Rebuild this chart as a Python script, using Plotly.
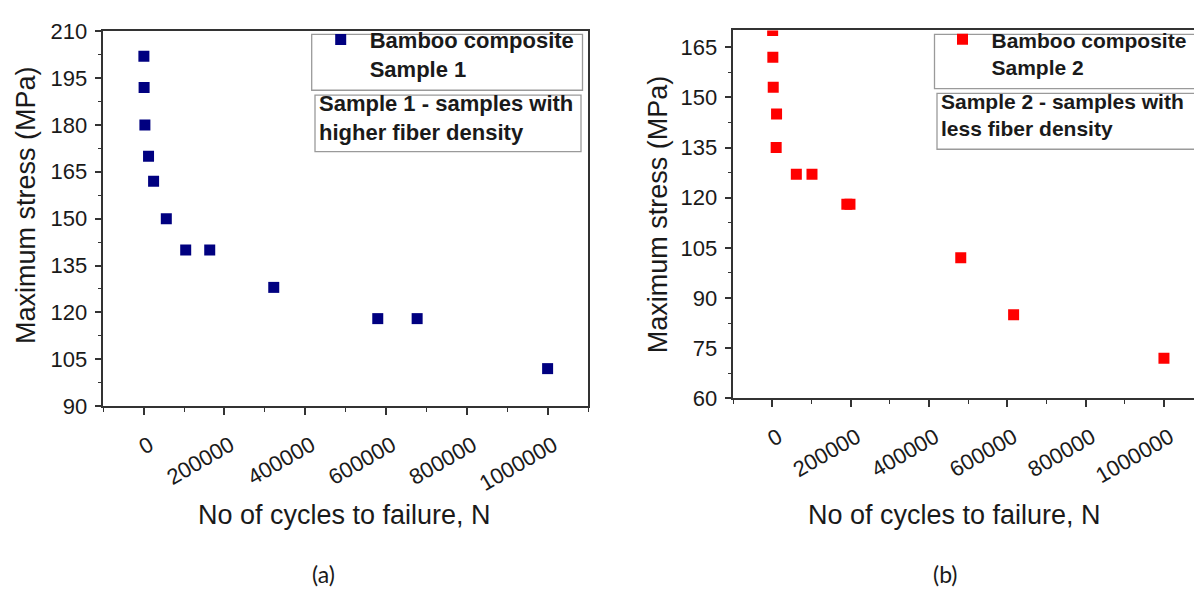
import plotly.graph_objects as go

W, H = 1194, 592

# ---- data ----
cycles_s1 = [500, 1000, 3000, 12000, 24500, 56000, 104000, 163500, 322000, 579500, 677000, 1000000]
stress_s1 = [202, 192, 180, 170, 162, 150, 140, 140, 128, 118, 118, 102]

cycles_s2 = [500, 1000, 2000, 10500, 9500, 61000, 101000, 190000, 198000, 481000, 616000, 1000000]
stress_s2 = [170, 162, 153, 145, 135, 127, 127, 118, 118, 102, 85, 72]

x_ticks = [0, 200000, 400000, 600000, 800000, 1000000]
y_ticks_a = [90, 105, 120, 135, 150, 165, 180, 195, 210]
y_ticks_b = [60, 75, 90, 105, 120, 135, 150, 165]

name_s1 = "Bamboo composite<br>Sample 1"
name_s2 = "Bamboo composite<br>Sample 2"
note_s1 = "Sample 1 - samples with<br>higher fiber density"
note_s2 = "Sample 2 - samples with<br>less fiber density"
x_title = "No of cycles to failure, N"
y_title = "Maximum stress (MPa)"

FONT = "Liberation Sans"
AX = "#333333"
TXT = "#1a1a1a"


def px(x):
    return x / W


def py(y):
    return 1 - y / H


fig = go.Figure()
fig.add_trace(go.Scatter(x=cycles_s1, y=stress_s1, mode="markers", name=name_s1, showlegend=True,
                         marker=dict(symbol="square", size=11, color="#000080"),
                         xaxis="x", yaxis="y", legend="legend"))
fig.add_trace(go.Scatter(x=cycles_s2, y=stress_s2, mode="markers", name=name_s2, showlegend=True,
                         marker=dict(symbol="square", size=11, color="#ff0000"),
                         xaxis="x2", yaxis="y2", legend="legend2"))

common_x = dict(tickvals=x_ticks, tickformat="d", tickangle=-30, ticks="outside", ticklen=7,
                tickwidth=1.5, tickcolor=AX, showline=True, linecolor=AX, linewidth=1.5,
                showgrid=False, zeroline=False, ticklabelstandoff=9, ticklabelshift=6,
                minor=dict(dtick=100000, tick0=0, ticks="outside", ticklen=4, tickwidth=1.2, tickcolor=AX),
                tickfont=dict(family=FONT, size=22, color=TXT))
common_y = dict(ticks="outside", ticklen=7, tickwidth=1.5, tickcolor=AX, showline=True,
                linecolor=AX, linewidth=1.5, showgrid=False, zeroline=False,
                ticklabelstandoff=3,
                minor=dict(dtick=7.5, ticks="outside", ticklen=4, tickwidth=1.2, tickcolor=AX),
                tickfont=dict(family=FONT, size=22, color=TXT))

font_a = dict(family=FONT, size=22, color=TXT, weight="bold")
font_b = dict(family=FONT, size=21, color=TXT, weight="bold")

fig.update_layout(
    width=W, height=H, margin=dict(l=0, r=0, t=0, b=0),
    paper_bgcolor="white", plot_bgcolor="white", showlegend=True,
    xaxis=dict(domain=[px(103.3), px(588)], range=[-100000, 1100000], anchor="y", mirror=True, **common_x),
    yaxis=dict(domain=[py(411.5), py(20)], range=[90, 210], tickvals=y_ticks_a, anchor="x", mirror=True,
               **common_y),
    xaxis2=dict(domain=[px(733.3), 1.0], range=[-100000, 1076750], anchor="y2", mirror=True, **common_x),
    yaxis2=dict(domain=[py(403.3), py(19.3)], range=[60, 170], tickvals=y_ticks_b, anchor="x2", mirror=False,
                **common_y),
    legend=dict(x=px(311.7), y=py(7), xanchor="left", yanchor="top", bgcolor="rgba(0,0,0,0)",
                borderwidth=0, valign="top", tracegroupgap=0, itemwidth=48, font=font_a),
    legend2=dict(x=px(933.5), y=py(7.5), xanchor="left", yanchor="top", bgcolor="rgba(0,0,0,0)",
                 borderwidth=0, valign="top", tracegroupgap=0, itemwidth=48, font=font_b),
)

shapes = []
# legend frames
shapes.append(dict(type="rect", xref="paper", yref="paper", x0=px(311.7), x1=px(582.5), y0=py(81.7), y1=py(23.3),
                   line=dict(color="#9a9a9a", width=1.3), layer="above"))
shapes.append(dict(type="rect", xref="paper", yref="paper", x0=px(934.5), x1=px(1210), y0=py(80), y1=py(23.3),
                   line=dict(color="#9a9a9a", width=1.3), layer="above"))
# note frames
shapes.append(dict(type="rect", xref="paper", yref="paper", x0=px(315), x1=px(581), y0=py(145.7), y1=py(86.7),
                   line=dict(color="#9a9a9a", width=1.3), layer="above"))
shapes.append(dict(type="rect", xref="paper", yref="paper", x0=px(937), x1=px(1210), y0=py(143.3), y1=py(85),
                   line=dict(color="#9a9a9a", width=1.3), layer="above"))
fig.update_layout(shapes=shapes)

ann = []
# notes
ann.append(dict(text=note_s1, xref="paper", yref="paper", x=px(317), y=py(110.5), xanchor="left", yanchor="middle",
                align="left", showarrow=False, font=font_a))
ann.append(dict(text=note_s2, xref="paper", yref="paper", x=px(939), y=py(108), xanchor="left", yanchor="middle",
                align="left", showarrow=False, font=font_b))
# axis titles
for xc, yc in [(344.7, 525.5), (954, 525.5)]:
    ann.append(dict(text=x_title, xref="paper", yref="paper", x=px(xc), y=py(yc), xanchor="center",
                    yanchor="middle", showarrow=False, font=dict(family=FONT, size=27, color=TXT)))
for xc, yc in [(25.8, 201.7), (657.4, 210.8)]:
    ann.append(dict(text=y_title, xref="paper", yref="paper", x=px(xc), y=py(yc), xanchor="center",
                    yanchor="middle", textangle=-90, showarrow=False, font=dict(family=FONT, size=27, color=TXT)))
# panel labels
for lab, xc, yc in [("(a)", 323, 587), ("(b)", 946, 586.7)]:
    ann.append(dict(text=lab, xref="paper", yref="paper", x=px(xc), y=py(yc), xanchor="center",
                    yanchor="middle", showarrow=False, font=dict(family="Lato, Open Sans, sans-serif", size=23,
                                                                 color=TXT)))
fig.update_layout(annotations=ann)

fig.write_html("out.html")
